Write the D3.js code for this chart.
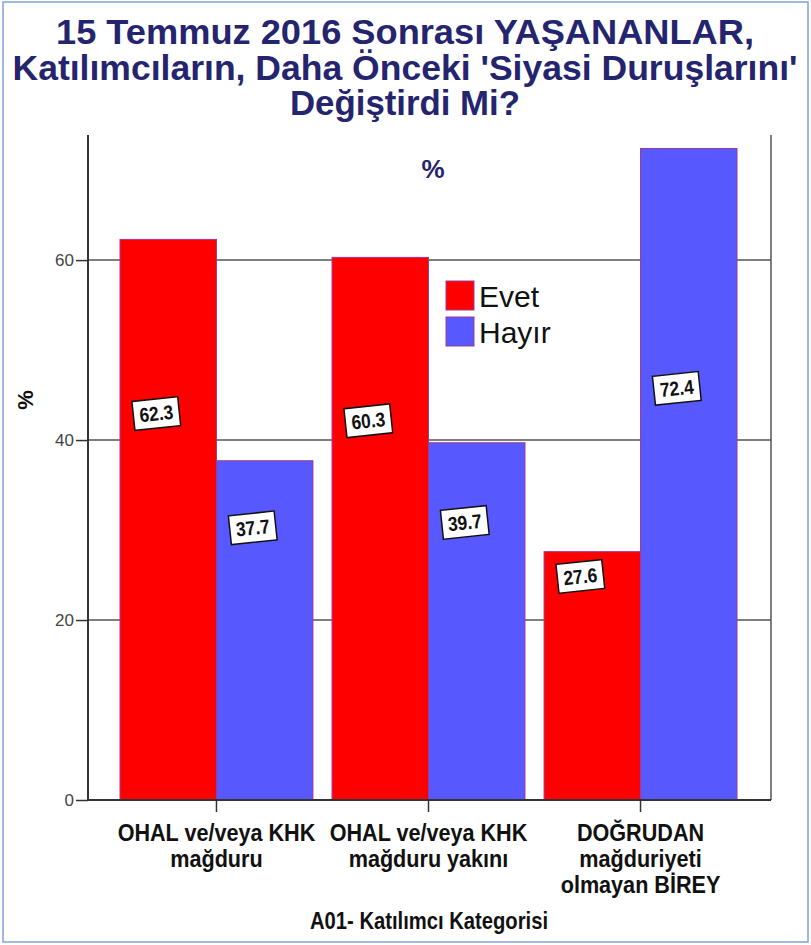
<!DOCTYPE html>
<html>
<head>
<meta charset="utf-8">
<script src="https://cdn.jsdelivr.net/npm/d3@7"></script>
<style>
  body { margin: 0; background: #fff; }
  text { font-family: "Liberation Sans", Arial, sans-serif; }
</style>
</head>
<body>
<svg id="chart" width="811" height="945"></svg>
<script>
// categories (multi-line labels)
const categories = ["OHAL mağduru", "OHAL yakını", "DOĞRUDAN"];
const categoryLines = [
  ["OHAL ve/veya KHK", "mağduru"],
  ["OHAL ve/veya KHK", "mağduru yakını"],
  ["DOĞRUDAN", "mağduriyeti", "olmayan BİREY"],
];
const seriesNames = ["Evet", "Hayır"];
const evet = [62.3, 60.3, 27.6];
const hayir = [37.7, 39.7, 72.4];
const yTicks = [0, 20, 40, 60];
// where SPSS put the value boxes (in % units along the bar)
const evetLabelAt = [43.0, 42.2, 24.9];
const hayirLabelAt = [30.3, 30.9, 45.8];

const titleLines = [
  "15 Temmuz 2016 Sonrası YAŞANANLAR,",
  "Katılımcıların, Daha Önceki 'Siyasi Duruşlarını'",
  "Değiştirdi Mi?",
];

const colors = { Evet: "#ff0000", "Hayır": "#5858ff" };
const navy = "#25256f";

const svg = d3.select("#chart");

// squeeze text horizontally (no narrow font available)
function condense(sel, k) {
  sel.each(function () {
    const w = this.getComputedTextLength();
    d3.select(this).attr("textLength", w * k).attr("lengthAdjust", "spacingAndGlyphs");
  });
}

// outer frame
svg.append("rect")
  .attr("x", 3).attr("y", 2)
  .attr("width", 805).attr("height", 940)
  .attr("fill", "none")
  .attr("stroke", "#7ea3d8")
  .attr("stroke-width", 1.5);

// title
const titleWidths = [698, 785, 230];
svg.selectAll(".title")
  .data(titleLines)
  .enter()
  .append("text")
  .attr("class", "title")
  .attr("x", 405)
  .attr("y", (d, i) => 44 + i * 35.5)
  .attr("text-anchor", "middle")
  .attr("font-size", 35)
  .attr("font-weight", "bold")
  .attr("fill", navy)
  .attr("textLength", (d, i) => titleWidths[i])
  .attr("lengthAdjust", "spacingAndGlyphs")
  .text((d) => d);

const plotL = 88, plotR = 771, plotT = 135, plotB = 800;

const y = d3.scaleLinear().domain([0, 73.9]).range([plotB, plotT]);
const x0 = d3.scaleBand().domain(categories).range([120, 737]).paddingInner(0.09);
const x1 = d3.scaleBand().domain(seriesNames).range([0, x0.bandwidth()]);

// gridlines
svg.append("g")
  .selectAll("line")
  .data(yTicks.filter((t) => t > 0))
  .enter()
  .append("line")
  .attr("x1", plotL).attr("x2", plotR)
  .attr("y1", (d) => y(d)).attr("y2", (d) => y(d))
  .attr("stroke", "#555")
  .attr("stroke-width", 1.5);

// bars
const rows = categories.map((c, i) => ({
  cat: c,
  values: [
    { key: "Evet", value: evet[i], at: evetLabelAt[i] },
    { key: "Hayır", value: hayir[i], at: hayirLabelAt[i] },
  ],
}));

const groups = svg.append("g")
  .selectAll("g")
  .data(rows)
  .enter()
  .append("g")
  .attr("transform", (d) => `translate(${x0(d.cat)},0)`);

groups.selectAll("rect")
  .data((d) => d.values)
  .enter()
  .append("rect")
  .attr("x", (d) => x1(d.key))
  .attr("y", (d) => y(d.value))
  .attr("width", x1.bandwidth())
  .attr("height", (d) => y(0) - y(d.value))
  .attr("fill", (d) => colors[d.key])
  .attr("stroke", "#9a3a9a")
  .attr("stroke-width", 1);

// value boxes
const boxes = groups.selectAll(".vbox")
  .data((d) => d.values)
  .enter()
  .append("g")
  .attr("class", "vbox")
  .attr("transform", (d) =>
    `translate(${x1(d.key) + x1.bandwidth() / 2 - 12},${y(d.at)}) rotate(-6)`);

boxes.append("rect")
  .attr("x", -23).attr("y", -14)
  .attr("width", 46).attr("height", 29)
  .attr("fill", "#fff")
  .attr("stroke", "#111")
  .attr("stroke-width", 1.5);

boxes.append("text")
  .attr("text-anchor", "middle")
  .attr("y", 7.5)
  .attr("font-size", 20)
  .attr("font-weight", "bold")
  .attr("fill", "#111")
  .text((d) => d.value.toFixed(1))
  .call(condense, 0.87);

// axes lines
svg.append("line")
  .attr("x1", plotL).attr("x2", plotL)
  .attr("y1", plotT).attr("y2", plotB)
  .attr("stroke", "#333").attr("stroke-width", 2);
svg.append("line")
  .attr("x1", plotR).attr("x2", plotR)
  .attr("y1", plotT).attr("y2", plotB)
  .attr("stroke", "#555").attr("stroke-width", 1.5);
svg.append("line")
  .attr("x1", plotL).attr("x2", plotR)
  .attr("y1", plotB).attr("y2", plotB)
  .attr("stroke", "#333").attr("stroke-width", 2);

// y axis
const yAxis = svg.append("g")
  .attr("transform", `translate(${plotL},0)`)
  .call(d3.axisLeft(y).tickValues(yTicks).tickSize(12).tickPadding(2).tickFormat(d3.format("d")));
yAxis.select(".domain").remove();
yAxis.selectAll(".tick line").attr("stroke", "#333").attr("stroke-width", 1.5);
yAxis.selectAll(".tick text")
  .attr("font-size", 17)
  .attr("font-family", "Liberation Sans, Arial, sans-serif")
  .attr("fill", "#444");

// x axis ticks + labels
const xAxis = svg.append("g")
  .attr("transform", `translate(0,${plotB})`)
  .call(d3.axisBottom(x0).tickSize(12).tickFormat(""));
xAxis.select(".domain").remove();
xAxis.selectAll(".tick line").attr("stroke", "#333").attr("stroke-width", 1.5);

svg.append("g")
  .selectAll("text")
  .data(categories)
  .enter()
  .append("text")
  .attr("x", (d) => x0(d) + x0.bandwidth() / 2)
  .attr("y", 841)
  .attr("text-anchor", "middle")
  .attr("font-size", 24)
  .attr("font-weight", "bold")
  .attr("fill", "#111")
  .selectAll("tspan")
  .data((d, i) => categoryLines[i])
  .enter()
  .append("tspan")
  .attr("x", function () { return this.parentNode.getAttribute("x"); })
  .attr("dy", (d, i) => (i === 0 ? 0 : 26))
  .text((d) => d)
  .call(condense, 0.9);

// axis titles
svg.append("text")
  .attr("x", 429).attr("y", 929)
  .attr("text-anchor", "middle")
  .attr("font-size", 24)
  .attr("font-weight", "bold")
  .attr("fill", "#111")
  .attr("textLength", 238)
  .attr("lengthAdjust", "spacingAndGlyphs")
  .text("A01- Katılımcı Kategorisi");

svg.append("text")
  .attr("transform", "translate(33,400) rotate(-90)")
  .attr("text-anchor", "middle")
  .attr("font-size", 22)
  .attr("font-weight", "bold")
  .attr("fill", "#111")
  .text("%");

svg.append("text")
  .attr("x", 433).attr("y", 178)
  .attr("text-anchor", "middle")
  .attr("font-size", 26)
  .attr("font-weight", "bold")
  .attr("fill", navy)
  .text("%");

// legend
const legend = svg.append("g")
  .selectAll("g")
  .data(seriesNames)
  .enter()
  .append("g")
  .attr("transform", (d, i) => `translate(446,${281 + i * 36})`);
legend.append("rect")
  .attr("width", 28).attr("height", 29)
  .attr("fill", (d) => colors[d])
  .attr("stroke", "#9a3a9a")
  .attr("stroke-width", 1);
legend.append("text")
  .attr("x", 33).attr("y", 26)
  .attr("font-size", 30)
  .attr("fill", "#111")
  .text((d) => d);
</script>
</body>
</html>
